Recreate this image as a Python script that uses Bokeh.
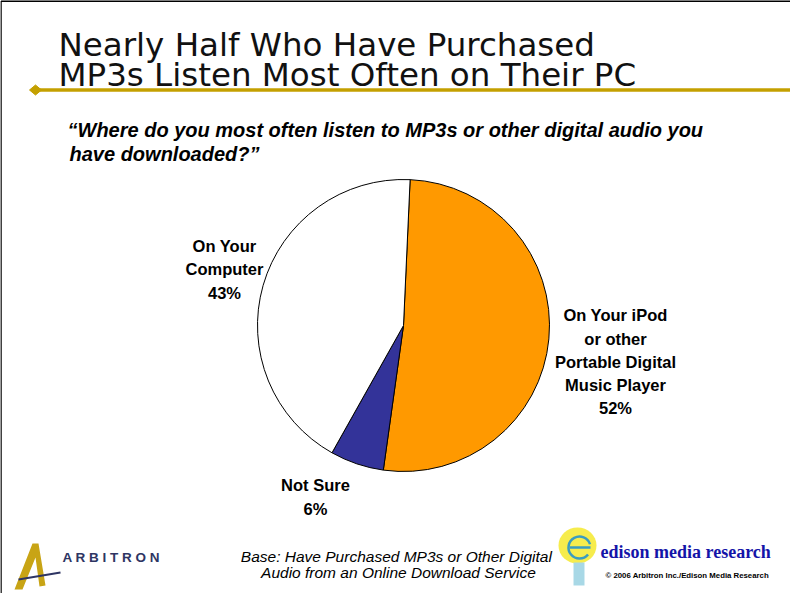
import numpy as np
from bokeh.plotting import figure
from bokeh.models import Range1d, ColumnDataSource
from bokeh.core.properties import value
from bokeh.embed import file_html
from bokeh.resources import INLINE

# ---- data ----
categories = ["On Your iPod or other Portable Digital Music Player", "Not Sure", "On Your Computer"]
shares = [52, 6, 43]
colors = ["#FF9900", "#333399", "#FFFFFF"]
title_lines = ["Nearly Half Who Have Purchased", "MP3s Listen Most Often on Their PC"]
question_lines = ["\u201cWhere do you most often listen to MP3s or other digital audio you",
                  "have downloaded?\u201d"]
label_lines = [["On Your iPod", "or other", "Portable Digital", "Music Player", "52%"],
               ["Not Sure", "6%"],
               ["On Your", "Computer", "43%"]]
base_lines = ["Base:  Have Purchased MP3s or Other Digital",
              "Audio from an Online Download Service"]

H = 609
def Y(ry):
    return H - ry

p = figure(width=790, height=593, x_range=Range1d(8, 798), y_range=Range1d(Y(601), Y(8)),
           output_backend="svg", toolbar_location=None, min_border=0)
p.axis.visible = False
p.grid.visible = False
p.outline_line_color = None
p.background_fill_color = "white"
p.border_fill_color = "white"

# slide frame
p.line([8.5, 8.5], [Y(609), Y(8.5)], line_color="black", line_width=1.5)
p.line([8.5, 806], [Y(8.5), Y(8.5)], line_color="black", line_width=2)

# title
p.text(x=[66, 66], y=[Y(52.5), Y(82.5)], text=title_lines, text_font=value("DejaVu Sans"),
       text_font_size="32.5px", text_color="#111111", text_baseline="alphabetic")

# gold rule with diamond
p.line([43, 806], [Y(97.5), Y(97.5)], line_color="#C4A000", line_width=3.5)
p.patch([37, 43, 49, 43], [Y(97.5), Y(92.5), Y(97.5), Y(102.5)], fill_color="#C4A000", line_color="#C4A000")

# question
p.text(x=[75, 77], y=[Y(137), Y(161)], text=question_lines, text_font=value("Liberation Sans"),
       text_font_size="20px", text_font_style="bold italic", text_color="black", text_baseline="alphabetic")

# pie
cx, cy, r = 411, Y(333), 146
start_offset = 87.4
total = float(sum(shares))
cum = np.cumsum([0] + shares) / total * 360.0
src = ColumnDataSource(dict(
    cat=categories, color=colors,
    start=[start_offset - cum[i + 1] for i in range(len(shares))],
    end=[start_offset - cum[i] for i in range(len(shares))]))
p.wedge(x=cx, y=cy, radius=r, start_angle="start", end_angle="end", start_angle_units="deg",
        end_angle_units="deg", fill_color="color", line_color="black", line_width=1, source=src)

# labels
label_pos = [(623, [322, 346, 369, 392, 415]), (323, [492, 516]), (232, [253, 276, 300])]
for (lx, lys), lines in zip(label_pos, label_lines):
    p.text(x=[lx] * len(lines), y=[Y(v) for v in lys], text=lines, text_font=value("Liberation Sans"),
           text_font_size="16.5px", text_font_style="bold", text_color="black",
           text_align="center", text_baseline="middle")

# base note
p.text(x=[406, 406], y=[Y(564), Y(580)], text=base_lines, text_font=value("Liberation Sans"),
       text_font_size="15.5px", text_font_style="italic", text_color="black",
       text_align="center", text_baseline="middle")

# Arbitron logo
p.patch([22, 40, 46, 53, 47, 43, 30], [Y(597), Y(551), Y(551), Y(593), Y(594), Y(565), Y(597)],
        fill_color="#C8A415", line_color=None)
p.line([26, 68], [Y(587), Y(580)], line_color="#2e3563", line_width=2)
p.text(x=[70], y=[Y(565)], text=["A R B I T R O N"], text_font=value("Liberation Sans"),
       text_font_size="13.5px", text_font_style="bold", text_color="#2e3563", text_baseline="middle")

# Edison logo
p.ellipse(x=[585], y=[Y(553)], width=38, height=36, fill_color="#F5EA3A", line_color=None, fill_alpha=0.9)
p.quad(left=[581], right=[592], top=[Y(570)], bottom=[Y(593)], fill_color="#A8D8E6", line_color=None)
p.arc(x=[587], y=[Y(555)], radius=11, start_angle=0.3, end_angle=5.6, line_color="#3a9cc0", line_width=2.5)
p.line([577, 598], [Y(555), Y(555)], line_color="#3a9cc0", line_width=2.5)
p.text(x=[608], y=[Y(559)], text=["edison media research"], text_font=value("Liberation Serif"),
       text_font_size="18px", text_font_style="bold", text_color="#1414A8", text_baseline="middle")
p.text(x=[613], y=[Y(583)], text=["\u00a9 2006 Arbitron Inc./Edison Media Research"],
       text_font=value("Liberation Sans"), text_font_size="7.8px", text_font_style="bold",
       text_color="black", text_baseline="middle")

open("out.html", "w").write(file_html(p, INLINE))
